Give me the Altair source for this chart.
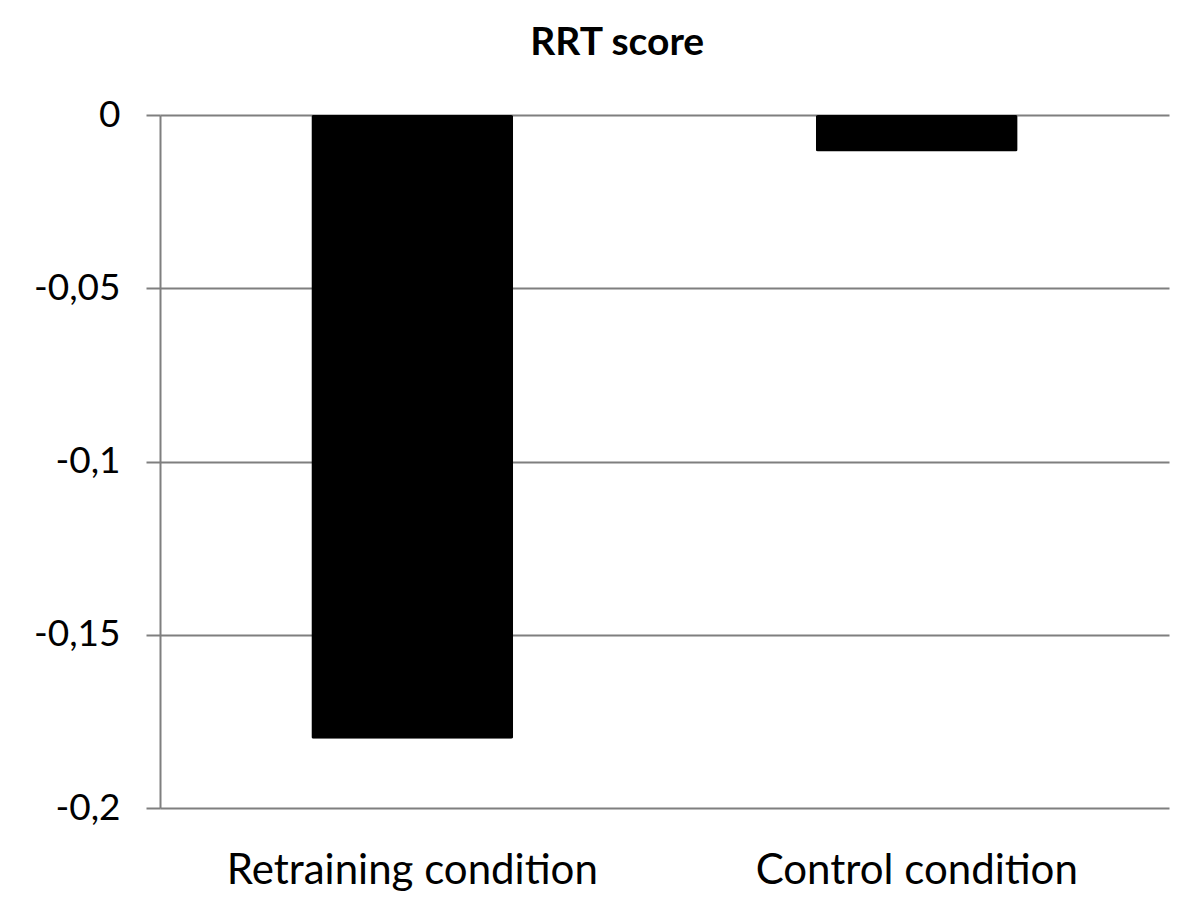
import altair as alt
import pandas as pd

conditions = ["Retraining condition", "Control condition"]
scores = [-0.18, -0.0105]
y_ticks = [0, -0.05, -0.1, -0.15, -0.2]

df = pd.DataFrame({"condition": conditions, "score": scores})

FONT = "Lato"

chart = (
    alt.Chart(df)
    .mark_bar(color="black", cornerRadius=2)
    .encode(
        x=alt.X(
            "condition:N",
            sort=conditions,
            scale=alt.Scale(paddingInner=0.6, paddingOuter=0.3),
            axis=alt.Axis(
                title=None,
                labelAngle=0,
                labelFontSize=42,
                labelFont=FONT,
                labelColor="black",
                labelPadding=42,
                labelLimit=0,
                ticks=False,
                domain=False,
                grid=False,
            ),
        ),
        y=alt.Y(
            "score:Q",
            scale=alt.Scale(domain=[-0.2, 0], nice=False),
            axis=alt.Axis(
                title=None,
                values=y_ticks,
                labelExpr="replace(toString(datum.value), '.', ',')",
                labelFontSize=37,
                labelFont=FONT,
                labelColor="black",
                labelPadding=26,
                tickSize=14,
                tickColor="#7f7f7f",
                tickWidth=2,
                domainColor="#7f7f7f",
                domainWidth=2,
                gridColor="#7f7f7f",
                gridWidth=2,
                grid=True,
            ),
        ),
    )
    .properties(
        width=1009,
        height=693,
        background="white",
        title=alt.TitleParams(
            "RRT score", fontSize=39, font=FONT, fontWeight="bold", color="black",
            offset=33, anchor="middle", frame="bounds", dx=16,
        ),
        autosize=alt.AutoSizeParams(type="none"),
        padding={"left": 152, "top": 107, "right": 20, "bottom": 90},
    )
    .configure_view(strokeWidth=0, stroke="transparent")
)

chart.save("out.html", embed_options={"renderer": "svg", "actions": False})
